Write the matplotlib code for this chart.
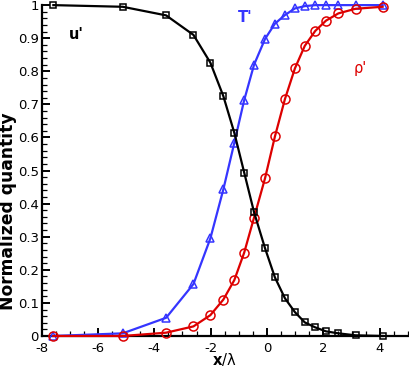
"""Normalized u', T' and rho' profiles across the shock (x / lambda)."""
import matplotlib

matplotlib.use("Agg")
import matplotlib.pyplot as plt  # noqa: E402
from matplotlib.ticker import MultipleLocator, FormatStrFormatter  # noqa: E402

plt.rcParams["font.family"] = ["DejaVu Sans"]
plt.rcParams["mathtext.fontset"] = "dejavusans"

# sample locations shared by all three profiles
x_pos = [-7.58, -5.12, -3.58, -2.61, -2.01, -1.55, -1.16, -0.81, -0.46, -0.07,
         0.28, 0.635, 0.99, 1.34, 1.71, 2.09, 2.53, 3.14, 4.10]
u_vals = [1.0, 0.995, 0.969, 0.910, 0.826, 0.725, 0.614, 0.494, 0.374, 0.265,
          0.177, 0.114, 0.072, 0.041, 0.026, 0.014, 0.008, 0.002, 0.0]
T_vals = [0.0, 0.008, 0.055, 0.157, 0.295, 0.443, 0.584, 0.713, 0.820, 0.898,
          0.944, 0.970, 0.990, 0.997, 1.0, 1.0, 1.0, 1.0, 1.0]
rho_vals = [0.0, 0.0, 0.010, 0.029, 0.063, 0.110, 0.169, 0.252, 0.358, 0.477,
            0.603, 0.716, 0.809, 0.877, 0.922, 0.953, 0.975, 0.989, 0.995]

BLUE = "#3535ff"
RED = "#dd0000"

fig = plt.figure(figsize=(4.09, 3.66), dpi=100)
ax = fig.add_axes([0.1015, 0.082, 0.896, 0.904])

ax.plot(x_pos, T_vals, color=BLUE, lw=1.6, marker="^", ms=6, mew=1.1,
        mfc="none", clip_on=False, zorder=3)
ax.plot(x_pos, rho_vals, color=RED, lw=1.6, marker="o", ms=6.5, mew=1.1,
        mfc="none", clip_on=False, zorder=3)
ax.plot(x_pos, u_vals, color="black", lw=1.6, marker="s", ms=4.8, mew=1.1,
        mfc="none", clip_on=False, zorder=4)

ax.text(-6.78, 0.912, "u'", fontsize=10.5, fontweight="bold", color="black",
        ha="center", va="center")
ax.text(-0.78, 0.962, "T'", fontsize=10.5, fontweight="bold", color=BLUE,
        ha="center", va="center")
ax.text(3.29, 0.807, "ρ'", fontsize=10.5, color=RED, ha="center", va="center")

ax.set_xlim(-8, 5)
ax.set_ylim(0, 1)
ax.xaxis.set_major_locator(MultipleLocator(2))
ax.xaxis.set_minor_locator(MultipleLocator(0.5))
ax.yaxis.set_major_locator(MultipleLocator(0.1))
ax.yaxis.set_minor_locator(MultipleLocator(0.02))
ax.yaxis.set_major_formatter(FormatStrFormatter("%g"))
ax.xaxis.set_major_formatter(FormatStrFormatter("%g"))

for side in ("top", "right"):
    ax.spines[side].set_visible(False)
for side in ("left", "bottom"):
    ax.spines[side].set_linewidth(1.6)
ax.tick_params(which="major", direction="in", length=6, width=1.4,
               labelsize=9.5)
ax.tick_params(which="minor", direction="in", length=3.5, width=0.9)
ax.tick_params(axis="y", which="major", pad=2)
ax.tick_params(axis="x", which="major", pad=4)

ax.set_xlabel(r"$\mathbf{x}$/λ", fontsize=10.5)
ax.xaxis.set_label_coords(0.498, -0.044)
ax.set_ylabel("Normalized quantity", fontsize=12.3, fontweight="bold")
ax.yaxis.set_label_coords(-0.068, 0.378)

fig.savefig("out.png", dpi=100)
